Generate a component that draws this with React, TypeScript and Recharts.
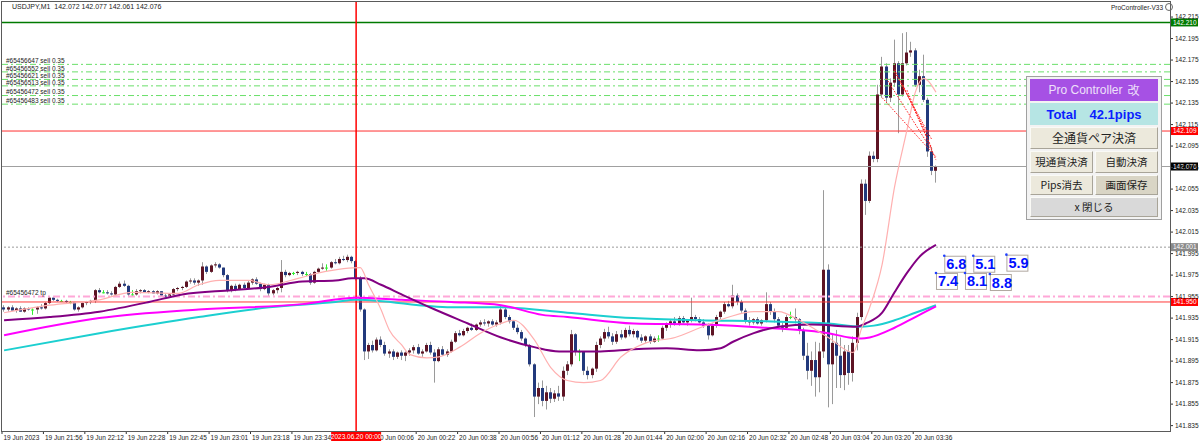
import React from "react";
import { ComposedChart, Bar, Line, XAxis, YAxis, ReferenceLine, ReferenceDot } from "recharts";

// prices are kept in thousandths above 141.800
const BASE = 141.8;

// one row per M1 bar: [open, high, low, close]
const ohlc: number[][] = [
  [145,147,141,143],[143,146,141,145],[145,147,142,142],[142,145,140,144],[144,146,141,141],
  [141,145,140,144],[144,145,142,143],[143,144,138,143],[143,146,139,145],[145,148,143,144],
  [144,150,143,149],[149,155,148,154],[154,155,151,152],[152,153,150,151],[151,152,150,151],
  [151,152,149,150],[150,151,148,150],[150,150,142,143],[143,146,141,145],[145,150,144,149],
  [149,151,147,150],[150,152,148,151],[151,162,149,161],[161,163,158,159],[159,161,158,159],
  [159,161,157,158],[158,160,156,157],[157,165,156,164],[164,169,163,167],[167,170,164,165],
  [165,166,155,157],[157,161,155,157],[157,162,156,160],[160,162,158,161],[161,162,159,159],
  [159,161,158,160],[160,161,158,158],[158,161,157,160],[160,160,155,156],[156,158,154,155],
  [155,158,154,157],[157,163,156,162],[162,164,160,163],[163,165,161,164],[164,170,163,169],
  [169,172,167,170],[170,172,166,168],[168,171,165,170],[170,187,166,183],[183,184,176,178],
  [178,185,177,184],[184,187,182,185],[185,186,181,182],[182,182,173,175],[175,176,159,161],
  [161,166,159,165],[165,167,160,162],[162,167,161,166],[166,168,162,163],[163,170,162,168],
  [168,172,166,171],[171,173,166,167],[167,168,160,162],[162,167,161,166],[166,167,155,158],
  [158,162,156,161],[161,164,158,163],[163,189,159,178],[178,180,173,175],[175,178,174,177],
  [177,178,175,177],[177,179,175,178],[178,179,174,176],[176,178,174,176],[176,177,166,168],
  [168,179,167,178],[178,182,177,181],[181,186,180,182],[182,185,179,182],[182,188,181,187],
  [187,190,185,186],[186,192,185,190],[190,193,188,189],[189,194,187,192],[192,193,186,188],
  [188,189,170,172],[172,174,141,143],[143,144,96,104],[104,112,97,110],[110,114,103,105],
  [105,117,104,115],[115,118,108,110],[110,113,100,102],[102,106,98,104],[104,106,96,99],
  [99,104,97,103],[103,105,96,100],[100,104,95,103],[103,107,100,105],[105,110,102,108],
  [108,111,101,102],[102,106,99,104],[104,112,103,110],[110,113,101,103],[103,106,75,95],
  [95,108,94,106],[106,109,100,101],[101,106,99,104],[104,115,103,113],[113,123,112,121],
  [121,124,118,119],[119,125,118,123],[123,127,121,126],[126,130,123,124],[124,130,123,129],
  [129,133,127,131],[131,134,128,130],[130,133,127,132],[132,134,128,129],[129,133,127,131],
  [131,147,129,143],[143,145,134,136],[136,138,130,132],[132,133,124,126],[126,129,120,122],
  [122,124,114,116],[116,117,108,110],[110,111,90,92],[92,93,43,62],[62,75,55,70],
  [70,77,53,58],[58,72,50,66],[66,70,56,60],[60,68,57,65],[65,72,58,62],
  [62,90,58,86],[86,95,82,92],[92,124,90,120],[120,121,100,104],[104,106,95,104],
  [104,104,82,86],[86,90,78,82],[82,89,79,88],[88,113,85,110],[110,118,107,116],
  [116,125,113,122],[122,127,116,118],[118,121,110,113],[113,123,111,120],[120,124,115,117],
  [117,126,116,124],[124,128,118,120],[120,125,117,123],[123,124,115,117],[117,120,112,114],
  [114,119,112,118],[118,120,111,113],[113,118,112,116],[116,119,113,116],[116,128,115,126],
  [126,131,123,129],[129,134,126,132],[132,136,128,130],[130,137,128,135],[135,137,130,131],
  [131,134,128,133],[133,154,131,136],[136,138,132,134],[134,136,130,131],[131,134,126,128],
  [128,130,115,119],[119,130,118,128],[128,138,126,136],[136,142,134,141],[141,150,139,148],
  [148,151,145,146],[146,166,144,156],[156,158,147,150],[150,152,140,142],[142,144,130,133],
  [133,136,128,131],[131,135,129,134],[134,136,129,130],[130,134,128,133],[133,159,131,148],
  [148,150,138,141],[141,144,131,134],[134,136,126,128],[128,131,122,126],[126,138,124,136],
  [136,141,134,136],[136,144,130,134],[134,135,120,124],[124,126,96,100],[100,112,78,86],
  [86,104,72,96],[96,113,62,80],[80,112,66,104],[104,254,98,180],[180,185,52,92],
  [92,120,55,112],[112,124,70,100],[100,117,70,82],[82,110,68,104],[104,110,73,84],
  [84,118,76,112],[112,140,105,136],[136,264,133,260],[260,264,231,244],[244,290,242,286],
  [286,290,280,283],[283,352,280,343],[343,378,340,369],[369,372,336,340],[340,358,336,354],
  [354,394,350,372],[372,374,307,343],[343,400,341,372],[372,401,370,382],[382,392,378,384],
  [384,386,350,352],[352,366,345,360],[360,380,336,338],[338,340,285,290],[290,294,268,272],
  [272,277,261,276],
];

// moving averages read at a few bars: [bar, thousandths]
const pinkMa = [[0,140],[11,147],[23,152],[31,159],[42,158],[47,166],[52,170],[59,170],[64,166],[71,172],[76,177],[82,181],[86,182],[88,166],[91,143],[93,124],[96,110],[98,101],[102,98],[105,99],[110,108],[115,121],[120,130],[123,133],[128,115],[132,89],[136,77],[140,75],[144,77],[149,99],[155,112],[162,117],[168,126],[175,136],[181,141],[187,141],[192,133],[199,117],[205,103],[207,125],[209,145],[212,185],[215,257],[218,310],[220,345],[222,358],[223,356],[225,345]];
const purpleMa = [[0,133],[11,136],[23,141],[35,150],[43,157],[55,161],[64,164],[72,169],[80,170],[84,172],[87,172],[91,166],[96,157],[104,143],[112,130],[120,117],[128,108],[134,104],[144,104],[152,106],[160,107],[168,105],[173,107],[176,113],[181,121],[187,127],[195,129],[206,127],[208,130],[212,140],[215,159],[218,177],[221,192],[225,203]];
const magentaMa = [[0,119],[23,135],[47,143],[72,148],[85,154],[96,152],[108,150],[120,147],[130,138],[136,136],[152,130],[168,129],[184,126],[199,121],[204,117],[207,116],[209,117],[215,126],[220,136],[225,146]];
const cyanMa = [[0,105],[23,121],[47,136],[64,145],[80,150],[85,152],[108,145],[120,145],[136,140],[152,135],[168,133],[184,132],[199,130],[207,127],[210,128],[215,133],[220,140],[225,147]];

const timeBars = [0,10,20,30,40,50,60,70,90,100,110,120,130,140,150,160,170,180,190,200,210,220];
const timeLabels = ["19 Jun 2023","19 Jun 21:56","19 Jun 22:12","19 Jun 22:28","19 Jun 22:45","19 Jun 23:01","19 Jun 23:18","19 Jun 23:34","20 Jun 00:06","20 Jun 00:22","20 Jun 00:38","20 Jun 00:56","20 Jun 01:12","20 Jun 01:28","20 Jun 01:44","20 Jun 02:00","20 Jun 02:16","20 Jun 02:32","20 Jun 02:48","20 Jun 03:04","20 Jun 03:20","20 Jun 03:36"];
const cursorBar = 85;
const cursorLabel = "2023.06.20 00:00";

const priceTicks = [142.215,142.195,142.175,142.155,142.135,142.115,142.095,142.075,142.055,142.035,142.015,141.995,141.975,141.955,141.935,141.915,141.895,141.875,141.855,141.835];

const sellTickets = ["#65456647","#65456552","#65456621","#65456513","#65456472","#65456483"];
const sellPrices = [142.171,142.164,142.157,142.151,142.142,142.134];

const tradeFromBar = [212,213,215,215,217,218];
const tradeFromPrice = [142.140,142.158,142.164,142.166,142.152,142.147];
const tradeToBar = [225,224,224,223,224,225];
const tradeToPrice = [142.085,142.091,142.101,142.105,142.093,142.082];

const pipsText = ["6.8","5.1","5.9","7.4","8.1","8.8"];
const pipsBar = [227,234,242,225,232,238];
const pipsPrice = [141.993,141.993,141.994,141.977,141.977,141.976];

const SLOTS = 282;
const BAND = 1168 / SLOTS;
const FONT = "'Liberation Sans', Arial, sans-serif";
const CJK = "'Noto Sans CJK JP', 'Liberation Sans', sans-serif";

const px = (v: number) => +(BASE + v / 1000).toFixed(3);
const maAt = (pts: number[][], i: number) => {
  const p = pts.find((q) => q[0] === i);
  return p ? px(p[1]) : null;
};

const data = Array.from({ length: SLOTS }, (_, i) => {
  const c = ohlc[i];
  return {
    i,
    range: c ? [px(c[2]), px(c[1])] : null,
    o: c ? px(c[0]) : null,
    h: c ? px(c[1]) : null,
    l: c ? px(c[2]) : null,
    c: c ? px(c[3]) : null,
    pink: maAt(pinkMa, i),
    purple: maAt(purpleMa, i),
    magenta: maAt(magentaMa, i),
    cyan: maAt(cyanMa, i),
  };
});

const Candle = (props: any) => {
  const { x, y, width, height, payload } = props;
  if (!payload || payload.o == null || height == null || isNaN(y)) return null;
  const top = Math.min(y, y + height);
  const h = Math.abs(height);
  const span = payload.h - payload.l;
  const yOf = (p: number) => (span > 0 ? top + ((payload.h - p) / span) * h : top);
  const cx = x + width / 2;
  const bx = Math.round(cx - 1.5);
  const yo = yOf(payload.o);
  const yc = yOf(payload.c);
  const bTop = Math.min(yo, yc);
  const bH = Math.max(1, Math.abs(yc - yo));
  const doji = payload.o === payload.c;
  const fill = doji ? "#33ee33" : payload.c > payload.o ? "#5e1424" : "#22397c";
  return (
    <g>
      <rect x={bx + 1} y={top} width={1} height={Math.max(1, h)} fill={doji ? "#33ee33" : "#9a9a9a"} />
      <rect x={bx} y={bTop} width={3} height={bH} fill={fill} />
    </g>
  );
};

const TimeTick = (props: any) => {
  const { x, y, payload } = props;
  const i = payload.value;
  if (i === cursorBar) {
    return (
      <g>
        <rect x={x - 25} y={y + 1} width={50} height={9} fill="#ff0000" />
        <text x={x} y={y + 8} textAnchor="middle" fontSize={6.5} fontFamily={FONT} fill="#ffffff">
          {cursorLabel}
        </text>
      </g>
    );
  }
  const left = x - BAND / 2;
  return (
    <g>
      <line x1={left} x2={left} y1={y} y2={y + 3} stroke="#333" />
      <text x={left + 1.5} y={y + 9} fontSize={6.5} fontFamily={FONT} fill="#222">
        {timeLabels[timeBars.indexOf(i)]}
      </text>
    </g>
  );
};

const PriceTick = (props: any) => {
  const { x, y, payload } = props;
  return (
    <text x={x} y={y + 2.3} fontSize={6.5} fontFamily={FONT} fill="#222">
      {payload.value.toFixed(3)}
    </text>
  );
};

const PriceTag = (props: any) => {
  const { viewBox, text, bg } = props;
  if (!viewBox) return null;
  const x = viewBox.x + viewBox.width + 1;
  return (
    <g>
      <rect x={x} y={viewBox.y - 4} width={27} height={8} fill={bg} />
      <text x={x + 2} y={viewBox.y + 2.3} fontSize={6.5} fontFamily={FONT} fill="#ffffff">
        {text}
      </text>
    </g>
  );
};

const LineNote = (props: any) => {
  const { viewBox, text } = props;
  if (!viewBox) return null;
  return (
    <text x={viewBox.x + 4} y={viewBox.y - 1.2} fontSize={6.5} fontFamily={FONT} fill="#222">
      {text}
    </text>
  );
};

const PipsBox = (props: any) => {
  const { cx, cy, text } = props;
  if (cx == null) return null;
  return (
    <g>
      <rect x={cx + 0.5} y={cy + 0.5} width={21} height={16} fill="#ffffff" stroke="#b0a8a0" />
      <circle cx={cx} cy={cy} r={1.3} fill="#2040ff" />
      <text x={cx + 2} y={cy + 13.5} fontSize={14.5} fontWeight="bold" fontFamily={FONT} fill="#0010ff">
        {text}
      </text>
    </g>
  );
};

const btn = (extra: React.CSSProperties): React.CSSProperties => ({
  position: "absolute",
  boxSizing: "border-box",
  display: "flex",
  alignItems: "center",
  justifyContent: "center",
  whiteSpace: "nowrap",
  fontFamily: CJK,
  color: "#222",
  borderTop: "1px solid #fafaf6",
  borderLeft: "1px solid #fafaf6",
  borderBottom: "1px solid #a8a498",
  borderRight: "1px solid #a8a498",
  background: "#ece9dc",
  lineHeight: 1,
  ...extra,
});

function ControlPanel() {
  return (
    <div
      style={{
        position: "absolute",
        left: 1026,
        top: 76,
        width: 136,
        height: 144,
        boxSizing: "border-box",
        background: "#f3f3f3",
        border: "1px solid #a0a0a0",
      }}
    >
      <div style={btn({ left: 3, top: 2, width: 128, height: 22, background: "#a651e4", border: "none", color: "#eee0fa", fontSize: 12, fontFamily: FONT })}>
        Pro Controller<span style={{ fontFamily: CJK, marginLeft: 5 }}>改</span>
      </div>
      <div style={btn({ left: 3, top: 26, width: 128, height: 22, background: "#b6e5e4", border: "none", color: "#0a1eff", fontSize: 13, fontWeight: "bold", fontFamily: FONT })}>
        Total<span style={{ marginLeft: 13 }}>42.1pips</span>
      </div>
      <div style={btn({ left: 3, top: 50, width: 128, height: 22, fontSize: 12 })}>全通貨ペア決済</div>
      <div style={btn({ left: 3, top: 74, width: 63, height: 22, fontSize: 10.5 })}>現通貨決済</div>
      <div style={btn({ left: 68, top: 74, width: 63, height: 22, fontSize: 10.5 })}>自動決済</div>
      <div style={btn({ left: 3, top: 98, width: 63, height: 20, fontSize: 10.5 })}>Pips消去</div>
      <div style={btn({ left: 68, top: 98, width: 63, height: 20, fontSize: 10.5, background: "#d9d5c5" })}>画面保存</div>
      <div style={btn({ left: 3, top: 120, width: 128, height: 20, fontSize: 10.5, background: "#d9d9d9" })}>x 閉じる</div>
    </div>
  );
}

export default function App() {
  return (
    <div style={{ position: "relative", width: 1200, height: 445, background: "#ffffff", overflow: "hidden" }}>
      <style>{"body{margin:0}"}</style>
      <ComposedChart width={1200} height={445} data={data} margin={{ top: 2, right: 0, left: 2, bottom: 0 }}>
        <XAxis
          dataKey="i"
          type="category"
          height={14}
          ticks={[...timeBars, cursorBar]}
          interval={0}
          tick={<TimeTick />}
          tickLine={false}
          axisLine={false}
          tickSize={0}
          tickMargin={0}
        />
        <YAxis
          orientation="right"
          type="number"
          width={30}
          domain={[141.83, 142.229]}
          allowDataOverflow
          ticks={priceTicks}
          interval={0}
          tick={<PriceTick />}
          tickSize={3}
          tickMargin={2}
          tickLine={{ stroke: "#333" }}
          axisLine={false}
        />
        <Bar dataKey="range" shape={<Candle />} isAnimationActive={false} />

        <ReferenceLine y={142.21} stroke="#007a00" strokeWidth={1.5} label={<PriceTag text="142.210" bg="#007a00" />} />
        {sellPrices.map((p, k) => (
          <ReferenceLine
            key={sellTickets[k]}
            y={p}
            stroke="#6adf6a"
            strokeDasharray="6 3 2 3"
            label={<LineNote text={`${sellTickets[k]} sell 0.35`} />}
          />
        ))}
        <ReferenceLine y={142.109} stroke="#ff3030" label={<PriceTag text="142.109" bg="#ff0000" />} />
        <ReferenceLine y={142.076} stroke="#a0a0a0" label={<PriceTag text="142.076" bg="#000000" />} />
        <ReferenceLine y={142.001} stroke="#9a9a9a" strokeDasharray="2 2" label={<PriceTag text="142.001" bg="#8a8a8a" />} />
        <ReferenceLine y={141.955} stroke="#ffa8d8" strokeWidth={2} strokeDasharray="7 3 2 3" label={<LineNote text="#65456472 tp" />} />
        <ReferenceLine y={141.95} stroke="#ff3a3a" label={<PriceTag text="141.950" bg="#ff0000" />} />
        <ReferenceLine x={cursorBar} stroke="#ff0000" strokeWidth={1.5} />

        <Line dataKey="cyan" type="monotone" stroke="#1ccfd0" strokeWidth={2} dot={false} connectNulls isAnimationActive={false} />
        <Line dataKey="magenta" type="monotone" stroke="#ff00ff" strokeWidth={2} dot={false} connectNulls isAnimationActive={false} />
        <Line dataKey="purple" type="monotone" stroke="#820082" strokeWidth={2} dot={false} connectNulls isAnimationActive={false} />
        <Line dataKey="pink" type="monotone" stroke="#ffb0b0" strokeWidth={1.2} dot={false} connectNulls isAnimationActive={false} />

        {tradeFromBar.map((b, k) => (
          <ReferenceLine
            key={"t" + k}
            segment={[
              { x: b, y: tradeFromPrice[k] },
              { x: tradeToBar[k], y: tradeToPrice[k] },
            ]}
            stroke="#ff2020"
            strokeDasharray="1.5 1.5"
          />
        ))}
        {pipsText.map((t, k) => (
          <ReferenceDot
            key={"p" + k}
            x={pipsBar[k]}
            y={pipsPrice[k]}
            shape={(p: any) => <PipsBox cx={p.cx} cy={p.cy} text={t} />}
          />
        ))}
      </ComposedChart>

      <div style={{ position: "absolute", left: 1, top: 1, width: 1170, height: 431, boxSizing: "border-box", border: "1px solid #5a5a5a", pointerEvents: "none" }} />
      <div style={{ position: "absolute", left: 12, top: 3, fontSize: 7, fontFamily: FONT, color: "#222", whiteSpace: "pre" }}>
        USDJPY,M1  142.072 142.077 142.061 142.076
      </div>
      <div style={{ position: "absolute", left: 1111, top: 3, fontSize: 6.5, fontFamily: FONT, color: "#222", display: "flex", alignItems: "center" }}>
        ProController-V33
        <span style={{ display: "inline-block", width: 6, height: 6, borderRadius: 4, border: "1px solid #666", marginLeft: 2 }} />
      </div>
      <ControlPanel />
    </div>
  );
}
